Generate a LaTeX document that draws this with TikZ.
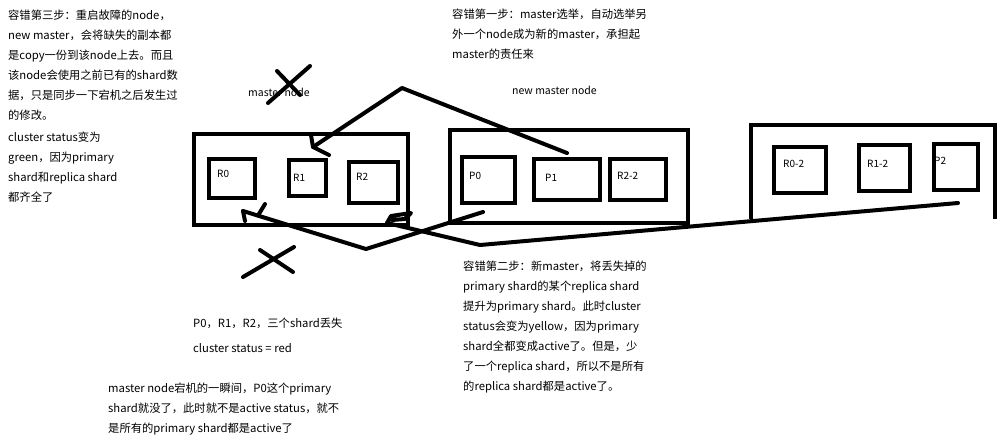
\documentclass[tikz,border=0pt]{standalone}
\usepackage{fontspec}
\setmainfont{Noto Sans CJK SC}
\begin{document}
\begin{tikzpicture}[x=1pt,y=-1pt,
  box/.style={draw=black,line width=4pt,inner sep=0pt},
  openbox/.style={inner sep=0pt},
  stroke/.style={draw=black,line width=4pt,line cap=round,line join=round},
  lbl/.style={font=\fontsize{10}{12}\selectfont,anchor=west,inner sep=0pt},
  txt/.style={font=\fontsize{11.3}{20}\selectfont,align=left,anchor=north west,inner sep=0pt}]
\useasboundingbox (0,0) rectangle (1005,445);
\fill[white] (0,0) rectangle (1005,445);

% old master node
\node[box,minimum width=214pt,minimum height=91pt] (N1) at (301,179.5) {};
\node[box,minimum width=46pt,minimum height=39pt] (R0) at (232,178.5) {};
\node[box,minimum width=37pt,minimum height=36pt] (R1) at (307.5,178) {};
\node[box,minimum width=49pt,minimum height=41pt] (R2) at (373.5,182.5) {};
\node[lbl] (lR0) at (217,174) {R0};
\node[lbl] (lR1) at (293,178) {R1};
\node[lbl] (lR2) at (356,177) {R2};

% new master node
\node[box,minimum width=238pt,minimum height=93pt] (N2) at (569,176.5) {};
\node[box,minimum width=53pt,minimum height=46pt] (P0) at (488.5,180) {};
\node[box,minimum width=66pt,minimum height=41pt] (P1) at (567,179.5) {};
\node[box,minimum width=56pt,minimum height=41pt] (R22) at (638,179.5) {};
\node[lbl] (lP0) at (469,176) {P0};
\node[lbl] (lP1) at (545,178) {P1};
\node[lbl] (lR22) at (617,176) {R2-2};

% third node (open at the bottom)
\node[openbox,minimum width=244pt,minimum height=94pt] (N3) at (873,172) {};
\draw[stroke,line cap=butt,line join=miter] (N3.south west) -- (N3.north west) -- (N3.north east) -- (N3.south east);
\node[box,minimum width=52pt,minimum height=46pt] (R02) at (800,170) {};
\node[box,minimum width=51pt,minimum height=46pt] (R12) at (884.5,168) {};
\node[box,minimum width=44pt,minimum height=46pt] (P2) at (956,167) {};
\node[lbl] (lR02) at (783,164) {R0-2};
\node[lbl] (lR12) at (867,164) {R1-2};
\node[lbl] (lP2) at (934,161) {P2};

% node titles
\node[lbl,font=\fontsize{10.5}{12}\selectfont] (t1) at (248,92) {master node};
\node[lbl,font=\fontsize{10.5}{12}\selectfont] (t2) at (512,90) {new master node};

% crosses
\draw[stroke] (268,103) -- (310,66);
\draw[stroke] (277,71) -- (300,95);
\draw[stroke] (243,277) -- (294,247);
\draw[stroke] (260,250) -- (293,272);

% connector 1: P1 -> R1
\coordinate (c1s) at (567,153);
\coordinate (c1m) at (402,88);
\coordinate (c1t) at (313,147);
\draw[stroke] (c1s) -- (c1m) -- (c1t);
\draw[stroke] (311,135) -- (c1t) -- (329,155);

% connector A: P0 -> R0
\coordinate (cAs) at (483,212);
\coordinate (cAm) at (366,249);
\coordinate (cAt) at (243,211);
\draw[stroke] (cAs) -- (cAm) -- (cAt);
\draw[stroke] (cAt) -- (245,221);
\draw[stroke] (258,215.5) -- (265,204);

% connector B: third node -> R2
\coordinate (cBs) at (958,203);
\coordinate (cBm) at (480,245);
\coordinate (cBt) at (387,223);
\draw[stroke] (cBs) -- (cBm) -- (cBt);
\draw[stroke] (cBt) -- (391,216) -- (411,213) -- (405,219) -- (392,220);

% texts
\node[txt] (txA) at (8,10) {容错第三步：重启故障的node，\\
new master，会将缺失的副本都\\
是copy一份到该node上去。而且\\
该node会使用之前已有的shard数\\
据，只是同步一下宕机之后发生过\\
的修改。\\[2pt]
cluster status变为\\
green，因为primary\\
shard和replica shard\\
都齐全了};

\node[txt] (txB) at (452,9) {容错第一步：master选举，自动选举另\\
外一个node成为新的master，承担起\\
master的责任来};

\node[txt] (txC) at (463,261) {容错第二步：新master，将丢失掉的\\
primary shard的某个replica shard\\
提升为primary shard。此时cluster\\
status会变为yellow，因为primary\\
shard全都变成active了。但是，少\\
了一个replica shard，所以不是所有\\
的replica shard都是active了。};

\node[txt] (txD) at (193,318) {P0，R1，R2，三个shard丢失\\[5pt]
cluster status = red};

\node[txt] (txE) at (108,383) {master node宕机的一瞬间，P0这个primary\\
shard就没了，此时就不是active status，就不\\
是所有的primary shard都是active了};
\end{tikzpicture}
\end{document}
